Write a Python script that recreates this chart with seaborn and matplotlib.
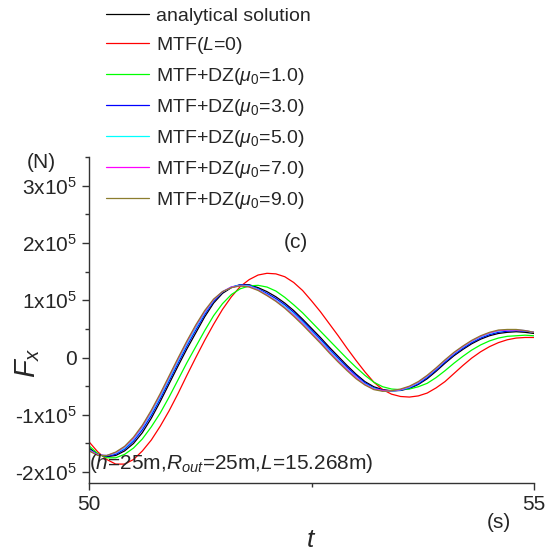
import matplotlib
matplotlib.use("Agg")
import matplotlib.pyplot as plt
import seaborn as sns
import pandas as pd
from matplotlib.ticker import MultipleLocator

# ---------------- data (force in units of 1e5 N) ----------------
time_s = [50.0, 50.1, 50.2, 50.3, 50.4, 50.5, 50.6, 50.7, 50.8, 50.9,
          51.0, 51.1, 51.2, 51.3, 51.4, 51.5, 51.6, 51.7, 51.8, 51.9,
          52.0, 52.1, 52.2, 52.3, 52.4, 52.5, 52.6, 52.7, 52.8, 52.9,
          53.0, 53.1, 53.2, 53.3, 53.4, 53.5, 53.6, 53.7, 53.8, 53.9,
          54.0, 54.1, 54.2, 54.3, 54.4, 54.5, 54.6, 54.7, 54.8, 54.9, 55.0]

analytical = [-1.58, -1.69, -1.73, -1.71, -1.63, -1.50, -1.31, -1.06, -0.77, -0.46,
              -0.15, 0.15, 0.43, 0.71, 0.95, 1.12, 1.22, 1.27, 1.27, 1.22,
              1.15, 1.06, 0.95, 0.82, 0.67, 0.51, 0.35, 0.18, 0.02, -0.14,
              -0.29, -0.42, -0.51, -0.56, -0.58, -0.575, -0.54, -0.47, -0.37, -0.24,
              -0.10, 0.03, 0.14, 0.24, 0.32, 0.38, 0.42, 0.44, 0.45, 0.44, 0.42]

mtf_L0 = [-1.47, -1.65, -1.78, -1.86, -1.86, -1.78, -1.63, -1.44, -1.20, -0.93,
          -0.63, -0.31, 0.00, 0.30, 0.58, 0.84, 1.06, 1.24, 1.36, 1.44,
          1.47, 1.46, 1.41, 1.31, 1.17, 0.99, 0.80, 0.59, 0.38, 0.16,
          -0.05, -0.25, -0.43, -0.56, -0.64, -0.68, -0.69, -0.67, -0.62, -0.53,
          -0.42, -0.28, -0.14, -0.01, 0.10, 0.19, 0.26, 0.31, 0.34, 0.35, 0.35]

dz_mu1 = [-1.54, -1.68, -1.75, -1.75, -1.69, -1.58, -1.42, -1.21, -0.97, -0.69,
          -0.39, -0.09, 0.19, 0.47, 0.73, 0.94, 1.10, 1.20, 1.25, 1.26,
          1.23, 1.16, 1.05, 0.92, 0.78, 0.62, 0.46, 0.30, 0.14, -0.02,
          -0.17, -0.31, -0.43, -0.51, -0.55, -0.56, -0.55, -0.51, -0.45, -0.35,
          -0.23, -0.10, 0.02, 0.13, 0.22, 0.29, 0.34, 0.37, 0.38, 0.39, 0.38]

dz_mu3 = [-1.60, -1.70, -1.72, -1.69, -1.60, -1.46, -1.26, -1.01, -0.72, -0.41,
          -0.10, 0.20, 0.48, 0.75, 0.98, 1.14, 1.23, 1.27, 1.26, 1.20,
          1.12, 1.03, 0.92, 0.79, 0.64, 0.48, 0.32, 0.15, -0.01, -0.17,
          -0.31, -0.44, -0.53, -0.57, -0.585, -0.57, -0.53, -0.46, -0.35, -0.22,
          -0.08, 0.05, 0.16, 0.26, 0.34, 0.40, 0.44, 0.46, 0.47, 0.46, 0.44]

dz_mu5 = [-1.61, -1.70, -1.71, -1.67, -1.58, -1.43, -1.22, -0.97, -0.68, -0.37,
          -0.06, 0.24, 0.52, 0.78, 1.00, 1.15, 1.23, 1.26, 1.25, 1.19,
          1.10, 1.00, 0.89, 0.76, 0.61, 0.45, 0.29, 0.12, -0.04, -0.20,
          -0.34, -0.46, -0.54, -0.58, -0.585, -0.565, -0.52, -0.44, -0.33, -0.20,
          -0.06, 0.07, 0.18, 0.28, 0.36, 0.42, 0.46, 0.48, 0.48, 0.47, 0.44]

dz_mu7 = [-1.62, -1.70, -1.71, -1.66, -1.56, -1.41, -1.20, -0.94, -0.65, -0.34,
          -0.03, 0.27, 0.55, 0.80, 1.01, 1.15, 1.23, 1.25, 1.24, 1.18,
          1.09, 0.99, 0.87, 0.74, 0.59, 0.43, 0.27, 0.10, -0.06, -0.21,
          -0.35, -0.47, -0.55, -0.58, -0.58, -0.56, -0.51, -0.43, -0.32, -0.19,
          -0.05, 0.08, 0.19, 0.29, 0.37, 0.43, 0.47, 0.48, 0.48, 0.47, 0.44]

dz_mu9 = [-1.63, -1.71, -1.71, -1.65, -1.55, -1.39, -1.18, -0.92, -0.63, -0.32,
          -0.01, 0.29, 0.57, 0.82, 1.02, 1.15, 1.22, 1.25, 1.23, 1.17,
          1.08, 0.98, 0.86, 0.72, 0.57, 0.41, 0.25, 0.08, -0.08, -0.23,
          -0.37, -0.48, -0.56, -0.59, -0.58, -0.55, -0.50, -0.42, -0.31, -0.18,
          -0.04, 0.09, 0.20, 0.30, 0.38, 0.44, 0.48, 0.49, 0.49, 0.47, 0.44]

series_labels = ["analytical solution", "MTF($L$=0)",
                 r"MTF+DZ($\mu_0$=1.0)", r"MTF+DZ($\mu_0$=3.0)",
                 r"MTF+DZ($\mu_0$=5.0)", r"MTF+DZ($\mu_0$=7.0)",
                 r"MTF+DZ($\mu_0$=9.0)"]
series_values = [analytical, mtf_L0, dz_mu1, dz_mu3, dz_mu5, dz_mu7, dz_mu9]
series_colors = ["#000000", "#ff0000", "#00ff00", "#0000ff",
                 "#00ffff", "#ff00ff", "#8c7d2e"]

y_ticks = [-2, -1, 0, 1, 2, 3]
y_tick_labels = [r"-2x10$^5$", r"-1x10$^5$", "0", r"1x10$^5$", r"2x10$^5$", r"3x10$^5$"]
x_ticks = [50, 55]
x_tick_labels = ["50", "55"]

# ---------------- build long table ----------------
rows = []
for lab, vals in zip(series_labels, series_values):
    for t, v in zip(time_s, vals):
        rows.append({"t": t, "Fx": v, "series": lab})
df = pd.DataFrame(rows)

# ---------------- style ----------------
sns.set_style("ticks")
plt.rcParams["font.family"] = ["Liberation Sans", "DejaVu Sans"]
plt.rcParams["mathtext.fontset"] = "custom"
plt.rcParams["mathtext.rm"] = "Liberation Sans"
plt.rcParams["mathtext.it"] = "Liberation Sans:italic"
plt.rcParams["mathtext.bf"] = "Liberation Sans:bold"

fig = plt.figure(figsize=(5.46, 5.54), dpi=100)
ax = fig.add_axes([89 / 546, 71 / 554, 445 / 546, 326 / 554])

sns.lineplot(data=df, x="t", y="Fx", hue="series", hue_order=series_labels,
             palette=dict(zip(series_labels, series_colors)),
             estimator=None, sort=False, linewidth=0.9, ax=ax, legend=False)

ax.set_xlim(50, 55)
ax.set_ylim(-2.19, 3.5)
ax.set_xticks(x_ticks)
ax.set_xticklabels(x_tick_labels)
ax.set_yticks(y_ticks)
ax.set_yticklabels(y_tick_labels)
ax.xaxis.set_minor_locator(MultipleLocator(2.5))
ax.yaxis.set_minor_locator(MultipleLocator(0.5))
ax.tick_params(which="major", length=5, width=1.0, labelsize=15, pad=4, color="#333333")
ax.tick_params(which="minor", length=3, width=1.0, color="#333333")
for side in ["top", "right"]:
    ax.spines[side].set_visible(False)
for side in ["left", "bottom"]:
    ax.spines[side].set_color("#333333")
    ax.spines[side].set_linewidth(1.0)

ax.set_xlabel("$t$", fontsize=19, labelpad=10)
ax.set_ylabel("$F_x$", fontsize=21)
ax.yaxis.set_label_coords(-0.105, 0.37)

fig.text(41 / 546, 1 - 163 / 554, "(N)", fontsize=15, ha="center", va="center")
fig.text(499 / 546, 1 - 523 / 554, "(s)", fontsize=15, ha="center", va="center")
ax.text(0.0, 0.061, r"($h$=25m,$R_{out}$=25m,$L$=15.268m)", transform=ax.transAxes,
        fontsize=15, ha="left", va="center")
fig.text(296 / 546, 1 - 243 / 554, "(c)", fontsize=15, ha="center", va="center")

handles = ax.get_lines()[:len(series_labels)]
fig.legend(handles, series_labels, loc="upper left",
           bbox_to_anchor=(106 / 546, 1 - 7 / 554), frameon=False,
           fontsize=14, handlelength=2.2, handletextpad=0.35,
           labelspacing=0.52, borderpad=0, borderaxespad=0)

fig.savefig("out.png", dpi=100)
